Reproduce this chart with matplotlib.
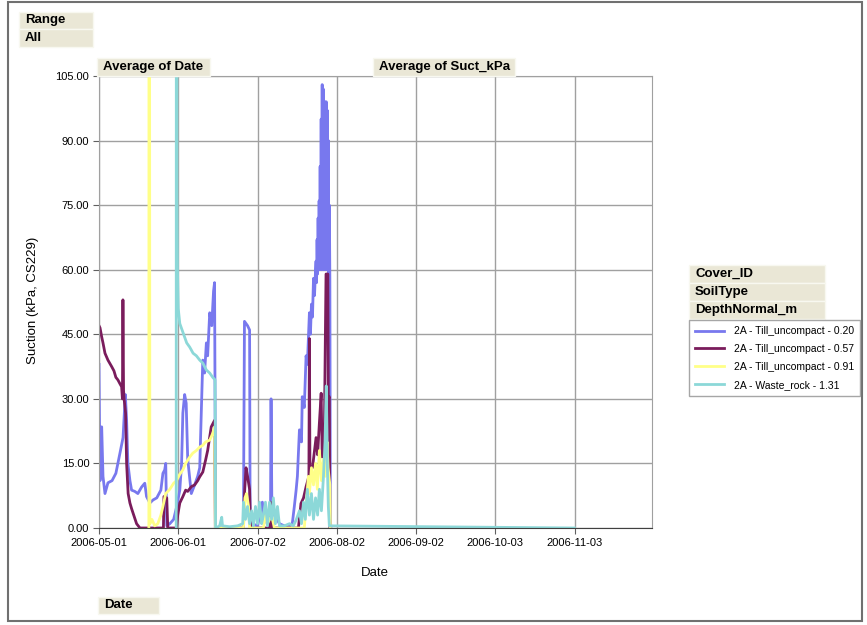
import numpy as np
import matplotlib
matplotlib.use("Agg")
import matplotlib.pyplot as plt
from matplotlib.patches import Rectangle

plt.rcParams['font.family'] = ['Liberation Sans', 'DejaVu Sans']

nan = np.nan
# x = days since 2006-05-01, y = suction (kPa)
blue_day = [0, 0.4, 1.05, 1.56, 2.34, 3.5, 5.1, 6.6, 8.2, 9.4, 10.3, 10.8, 11.3, 12.1, 12.75, 14.0, 15.2,
            16.65, 17.9, 18.6, 19.9, 21.1, 22.6, 24.2, 25.0, 25.7, 26.1, 26.5, 27.7, 29.2, 30.4, 31.6, 32.3,
            32.8, 33.5, 34.1, 34.7, 36.1, 37.4, 38.6, 39.4, 40.0, 40.6, 41.3, 42.0, 42.5, 43.3, 44.1, 44.8,
            45.2, 45.6, 50.0, 56.5, 56.9, 58.1, 58.9, 59.1, 60.0, 62.0, 63.2, 63.9, 64.7, 65.9, 67.1,
            67.3, 67.6, 68.6, 70.6, 72.5, 74.5, 75.6, 76.4, 77.1, 77.6, 78.4, 79.2, 79.5, 80.3, 81.0,
            81.5, 82.3, 82.7, 83.1, 83.5, 83.9, 84.3, 84.7, 84.9, 85.1, 85.3, 85.5, 85.7, 85.9, 86.1,
            86.3, 86.5, 86.7, 86.9, 87.1, 87.3, 87.5, 87.7, 87.9, 88.1, 88.3, 88.5, 88.7, 88.9, 89.1,
            89.3, 89.5, 89.7, 89.9, 90.1, 90.3, 90.5, 90.7]
blue_val = [38, 11, 23.5, 12, 8, 10.5, 11, 12.7, 17.4, 21, 31, 25, 15, 11, 8.8, 8.5, 8,
            9.5, 10.4, 7.3, 5.8, 6.5, 7, 8.8, 12.7, 13.5, 15, 0.5, 1, 2, 5, 8.8, 15,
            26.7, 31, 29, 16, 8, 10, 12, 14, 26.7, 39, 36, 43, 40, 50, 47, 55,
            57, 1, nan, 3, 48, 47, 46, 4, 1, 0.5, 4, 6, 2, 1, 5,
            30, 6, 3, 1, 0.5, 0.5, 1, 5, 8.8, 12, 22.8, 20, 30.5, 28, 40,
            38, 50, 45, 52, 49, 58, 54, 60, 62, 57, 67, 59, 72, 60, 76,
            60, 84, 61, 95, 60, 103, 62, 102, 60, 96, 61, 99, 60, 99, 62,
            97, 60, 90, 58, 75, 58, 2, 0]

maroon_day = [0, 0.4, 1.05, 1.56, 2.34, 3.5, 4.95, 5.85, 6.6, 7.4, 8.2, 8.85, 9.16, 9.36, 9.6, 9.87,
              10.4, 10.8, 11.4, 12.1, 12.75, 13.3, 14.7, 16.0, 19.1, 25.2, 25.4, 26.5, 26.9, 30.3, 30.8,
              31.6, 32.8, 33.9, 34.7, 36.1, 37.4, 38.6, 39.4, 40.6, 41.7, 42.5, 43.9, 45.2, 45.5,
              56.5, 56.9, 57.5, 58.1, 58.9, 59.3, 66.7, 67.1, 67.8, 78.0, 79.0, 80.0, 81.0, 82.1,
              82.3, 82.5, 83.5, 84.9, 85.5, 86.2, 86.9, 87.3, 88.1, 88.8, 89.5, 89.7, 90.1, 90.3]
maroon_val = [47, 46.5, 44.4, 43, 40.6, 39, 37.5, 36.5, 35, 34.4, 33.5, 32.8, 30, 53, 32, 29.7,
              26.7, 15, 8, 5.8, 4.5, 3.5, 1, 0, 0, 0, 7.3, 7, 0, 0, 3,
              5.8, 7.3, 8.8, 8.5, 9.6, 10, 11, 11.9, 13, 15.8, 18, 23.5, 25, 0,
              0, 8, 14, 12, 9, 0, 0, 6, 0, 0, 5.7, 7, 9.6, 12,
              44, 14, 14, 21, 17, 24.4, 31.3, 16.5, 20, 59, 59, 30, 30.5, 0]

yellow_day = [19.5, 19.6, 19.9, 20.7, 21.8, 23.0, 24.2, 25.0, 26.1, 27.7, 29.2, 30.3, 31.6, 32.8,
              33.9, 35.5, 36.7, 38.1, 39.4, 40.6, 41.7, 43.3, 44.5, 45.2, 45.5, 56.5, 57.1, 57.7,
              58.5, 58.9, 64.3, 65.1, 65.9, 67.5, 68.6, 80.3, 81.1, 81.9, 82.3, 83.1, 83.9, 84.7,
              85.4, 86.2, 87.0, 87.8, 88.6, 89.2, 89.6, 90.3, 90.5]
yellow_val = [0, 300, 1, 2, 0.5, 1, 3, 5, 8, 9, 10.4, 11, 12.5, 13.5,
              15, 16.5, 17.4, 18, 18.8, 19.2, 20, 20.4, 22, 23.5, 0, 0, 7, 8,
              5, 0, 0, 3, 1, 3, 0, 0, 6, 12, 8, 14, 10, 15,
              9, 18, 11, 16, 12, 20, 14, 10, 0]

cyan_day = [30.2, 30.3, 30.5, 30.7, 31.0, 31.6, 32.8, 34.3, 35.5, 36.8, 38.1, 39.4, 40.6, 42.0,
            43.3, 44.5, 45.4, 45.6, 47.2, 48.0, 48.3, 51.1, 54.2, 56.2, 56.5, 57.3, 58.1, 58.9,
            59.7, 60.4, 61.2, 62.0, 62.8, 63.6, 64.3, 65.1, 65.9, 66.7, 67.5, 68.2, 69.0, 69.8,
            70.6, 72.5, 74.5, 76.0, 77.2, 78.4, 79.2, 80.0, 80.7, 81.5, 82.3, 83.1, 83.9, 84.7,
            85.5, 86.2, 87.0, 87.8, 88.4, 88.9, 89.3, 89.7, 90.1, 186.0]
cyan_val = [0, 300, 78, 60, 51, 47.5, 45.5, 43, 42, 40.6, 40, 39, 38.3, 36.7,
            36, 35, 34.4, 0, 0.5, 2.5, 0.5, 0.3, 0.5, 1, 6, 2, 5, 1,
            4, 0.5, 5, 1, 6, 1, 3, 6, 0.5, 6, 2, 7, 1, 5,
            0.5, 0.5, 1, 0.5, 2, 4, 1, 6, 2, 9, 3, 8, 2, 7,
            3, 9, 4, 12, 20, 33, 15, 5, 0.5, 0]

series_names = ["2A - Till_uncompact - 0.20", "2A - Till_uncompact - 0.57",
                "2A - Till_uncompact - 0.91", "2A - Waste_rock - 1.31"]
colors = ["#7878EE", "#7A1C5C", "#FFFF88", "#8CD8D8"]

tick_days = [0, 31, 62, 93, 124, 155, 186]
tick_labels = ["2006-05-01", "2006-06-01", "2006-07-02", "2006-08-02",
               "2006-09-02", "2006-10-03", "2006-11-03"]
y_ticks = [0, 15, 30, 45, 60, 75, 90, 105]

W, H = 867, 625
fig = plt.figure(figsize=(W / 100, H / 100), dpi=100)
ax = fig.add_axes([99 / W, 1 - 528 / H, (652 - 99) / W, (528 - 76) / H])

ax.plot(blue_day, blue_val, color=colors[0], lw=2, label=series_names[0])
ax.plot(maroon_day, maroon_val, color=colors[1], lw=2, label=series_names[1])
ax.plot(yellow_day, yellow_val, color=colors[2], lw=2, label=series_names[2])
ax.plot(cyan_day, cyan_val, color=colors[3], lw=2, label=series_names[3])

ax.set_xlim(0, 216.3)
ax.set_ylim(0, 105)
ax.set_xticks(tick_days)
ax.set_xticklabels(tick_labels, fontsize=8)
ax.set_yticks(y_ticks)
ax.set_yticklabels(["%.2f" % v for v in y_ticks], fontsize=8)
ax.grid(True, color="#A0A0A0", lw=1)
ax.set_axisbelow(True)
for s in ["left", "top", "right"]:
    ax.spines[s].set_color("#A0A0A0")
ax.spines["bottom"].set_color("#404040")
ax.tick_params(axis="both", length=4, color="#606060", pad=3)

# labels
fig.text(375 / W, 1 - 573 / H, "Date", fontsize=9.5, ha="center", va="center")
fig.text(33 / W, 1 - 300 / H, "Suction (kPa, CS229)", fontsize=9.5, rotation=90,
         ha="center", va="center")

# beige field boxes
def field_box(x0, y0, x1, y1, txt):
    fig.add_artist(Rectangle((x0 / W, 1 - y1 / H), (x1 - x0) / W, (y1 - y0) / H,
                             transform=fig.transFigure, facecolor="#EAE7D6",
                             edgecolor="#F8F8F0", lw=1))
    fig.text((x0 + 6) / W, 1 - (y0 + y1) / 2 / H, txt, fontsize=9.5, fontweight="bold",
             ha="left", va="center")

field_box(19, 12, 93, 29, "Range")
field_box(19, 29, 93, 47, "All")
field_box(97, 58, 210, 76, "Average of Date")
field_box(373, 58, 515, 76, "Average of Suct_kPa")
field_box(689, 265, 825, 283, "Cover_ID")
field_box(689, 283, 825, 301, "SoilType")
field_box(689, 301, 825, 319, "DepthNormal_m")
field_box(98, 597, 159, 614, "Date")

leg = fig.legend(loc="upper left", bbox_to_anchor=(689 / W, 1 - 320 / H), fontsize=7.5,
                 frameon=True, fancybox=False, edgecolor="#909090", handlelength=2.8,
                 borderpad=0.6, labelspacing=0.75, handletextpad=0.9, borderaxespad=0)
leg.get_frame().set_linewidth(1)

# outer border
fig.add_artist(Rectangle((8 / W, 4 / H), (862 - 8) / W, (623 - 4) / H, transform=fig.transFigure,
                         facecolor="none", edgecolor="#707070", lw=1.5))

fig.savefig("out.png", dpi=100)
